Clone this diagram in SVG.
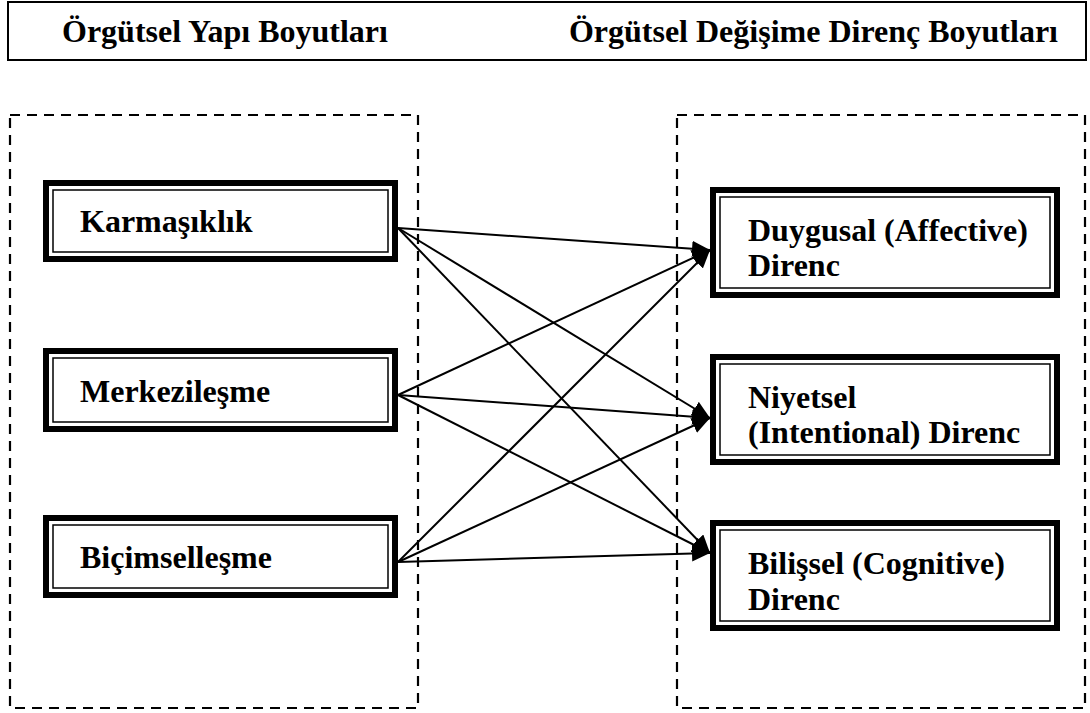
<svg xmlns="http://www.w3.org/2000/svg" width="1090" height="713" viewBox="0 0 1090 713">
<style>
text{font-family:"Liberation Serif","Times New Roman",serif;font-weight:bold;fill:#000}
.hdr{font-size:32px}
.lbl{font-size:32px}
.dash{fill:none;stroke:#000;stroke-width:2.2;stroke-dasharray:10,7}
.outer{fill:#fff;stroke:#000;stroke-width:6}
.inner{fill:none;stroke:#000;stroke-width:1.5}
.conn line{stroke:#000;stroke-width:2;marker-end:url(#ah)}
</style>
<defs>
<marker id="ah" markerUnits="userSpaceOnUse" markerWidth="20" markerHeight="16" refX="18" refY="8" orient="auto">
<path d="M0,0 L18,8 L0,16 Z" fill="#000"/>
</marker>
</defs>
<rect width="1090" height="713" fill="#fff"/>
<g id="header">
<rect x="8" y="2" width="1078" height="58" fill="none" stroke="#000" stroke-width="2"/>
<text class="hdr" x="62" y="42">Örgütsel Yapı Boyutları</text>
<text class="hdr" x="1058" y="42" text-anchor="end">Örgütsel Değişime Direnç Boyutları</text>
</g>
<g id="group-left"><rect class="dash" x="10" y="115" width="408" height="593"/></g>
<g id="group-right"><rect class="dash" x="677" y="115" width="408" height="593"/></g>
<g class="conn" id="connectors">
<line x1="398" y1="228" x2="710" y2="250"/>
<line x1="398" y1="228" x2="710" y2="418"/>
<line x1="398" y1="228" x2="710" y2="553"/>
<line x1="398" y1="395" x2="710" y2="250"/>
<line x1="398" y1="395" x2="710" y2="418"/>
<line x1="398" y1="395" x2="710" y2="553"/>
<line x1="398" y1="562" x2="710" y2="250"/>
<line x1="398" y1="562" x2="710" y2="418"/>
<line x1="398" y1="562" x2="710" y2="553"/>
</g>
<g id="karmasiklik">
<rect class="outer" x="46" y="183" width="349" height="76"/>
<rect class="inner" x="53" y="190" width="335" height="62"/>
<text class="lbl" x="80" y="232">Karmaşıklık</text>
</g>
<g id="merkezilesme">
<rect class="outer" x="46" y="351" width="349" height="78"/>
<rect class="inner" x="53" y="358" width="335" height="64"/>
<text class="lbl" x="80" y="402">Merkezileşme</text>
</g>
<g id="bicimsellesme">
<rect class="outer" x="46" y="518" width="349" height="77"/>
<rect class="inner" x="53" y="525" width="335" height="63"/>
<text class="lbl" x="80" y="568">Biçimselleşme</text>
</g>
<g id="duygusal">
<rect class="outer" x="713" y="190" width="344" height="105"/>
<rect class="inner" x="720" y="197" width="330" height="91"/>
<text class="lbl" x="748" y="241">Duygusal (Affective)</text>
<text class="lbl" x="748" y="276">Direnc</text>
</g>
<g id="niyetsel">
<rect class="outer" x="713" y="357" width="344" height="105"/>
<rect class="inner" x="720" y="364" width="330" height="91"/>
<text class="lbl" x="748" y="408">Niyetsel</text>
<text class="lbl" x="748" y="443">(Intentional) Direnc</text>
</g>
<g id="bilissel">
<rect class="outer" x="713" y="523" width="344" height="105"/>
<rect class="inner" x="720" y="530" width="330" height="91"/>
<text class="lbl" x="748" y="574">Bilişsel (Cognitive)</text>
<text class="lbl" x="748" y="610">Direnc</text>
</g>
</svg>
